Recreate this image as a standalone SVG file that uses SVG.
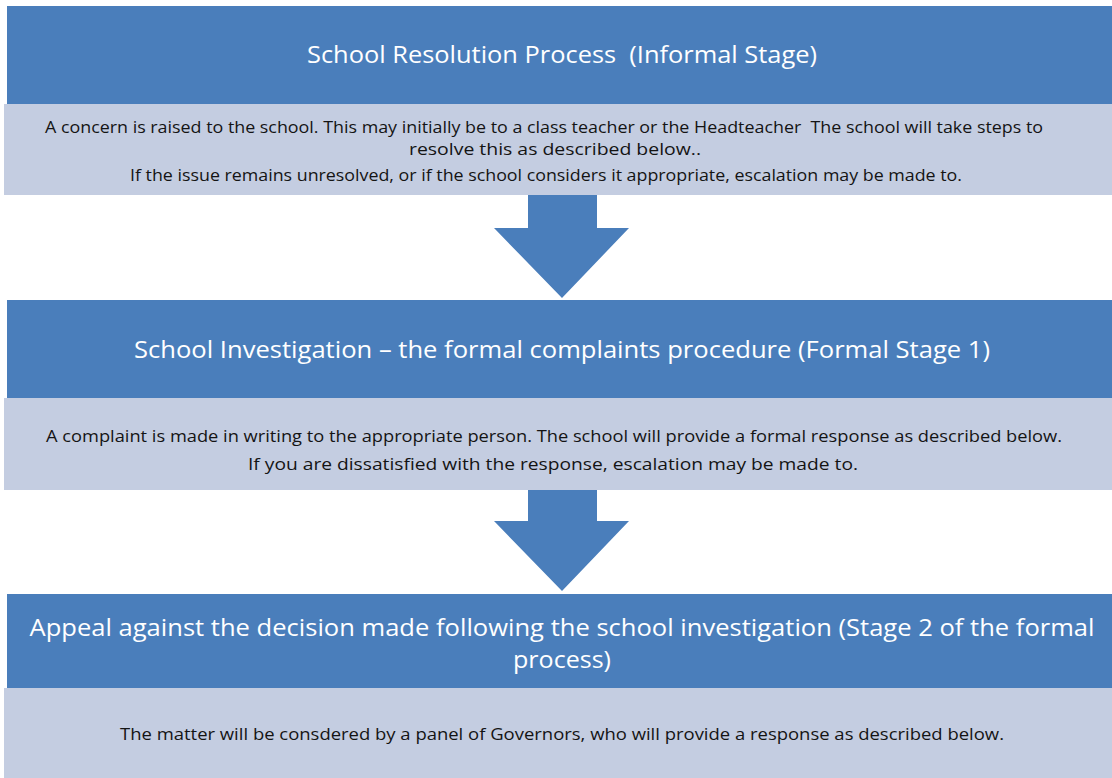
<svg xmlns="http://www.w3.org/2000/svg" width="1112" height="778" viewBox="0 0 1112 778">
  <style>
    .head { fill: #4a7ebb; }
    .body { fill: #c4cde1; }
    .arrow { fill: #4a7ebb; }
    .ht { font-family: "Open Sans", "Liberation Sans", sans-serif; font-size: 23px; fill: #ffffff; text-anchor: middle; white-space: pre; }
    .bt { font-family: "Open Sans", "Liberation Sans", sans-serif; font-size: 16px; fill: #141414; text-anchor: middle; white-space: pre; }
  </style>
  <rect x="0" y="0" width="1112" height="778" fill="#ffffff"/>

  <!-- Stage 0: informal -->
  <g id="stage-informal-head">
    <rect class="head" x="7" y="6" width="1105" height="98"/>
    <text class="ht" xml:space="preserve" x="562" y="63" textLength="510" lengthAdjust="spacingAndGlyphs">School Resolution Process  (Informal Stage)</text>
  </g>
  <g id="stage-informal-body">
    <rect class="body" x="4" y="104" width="1108" height="91"/>
    <text class="bt" xml:space="preserve" x="544" y="133" textLength="998" lengthAdjust="spacingAndGlyphs">A concern is raised to the school. This may initially be to a class teacher or the Headteacher  The school will take steps to</text>
    <text class="bt" x="555" y="155" textLength="292" lengthAdjust="spacingAndGlyphs">resolve this as described below..</text>
    <text class="bt" x="546" y="181" textLength="832" lengthAdjust="spacingAndGlyphs">If the issue remains unresolved, or if the school considers it appropriate, escalation may be made to.</text>
  </g>

  <!-- Stage 1: formal investigation -->
  <g id="stage-formal-head">
    <rect class="head" x="7" y="300" width="1105" height="98"/>
    <text class="ht" x="562" y="358" textLength="856" lengthAdjust="spacingAndGlyphs">School Investigation – the formal complaints procedure (Formal Stage 1)</text>
  </g>
  <g id="stage-formal-body">
    <rect class="body" x="4" y="398" width="1108" height="92"/>
    <text class="bt" x="554" y="442" textLength="1016" lengthAdjust="spacingAndGlyphs">A complaint is made in writing to the appropriate person. The school will provide a formal response as described below.</text>
    <text class="bt" x="553" y="470" textLength="610" lengthAdjust="spacingAndGlyphs">If you are dissatisfied with the response, escalation may be made to.</text>
  </g>

  <!-- Stage 2: appeal -->
  <g id="stage-appeal-head">
    <rect class="head" x="7" y="594" width="1105" height="94"/>
    <text class="ht" x="562" y="636" textLength="1065" lengthAdjust="spacingAndGlyphs">Appeal against the decision made following the school investigation (Stage 2 of the formal</text>
    <text class="ht" x="562" y="668" textLength="98" lengthAdjust="spacingAndGlyphs">process)</text>
  </g>
  <g id="stage-appeal-body">
    <rect class="body" x="4" y="688" width="1108" height="90"/>
    <text class="bt" x="562" y="740" textLength="884" lengthAdjust="spacingAndGlyphs">The matter will be consdered by a panel of Governors, who will provide a response as described below.</text>
  </g>

  <!-- Block arrows between stages -->
  <g id="connectors">
    <polygon class="arrow" points="528,195 597,195 597,228 629,228 562,298 494,228 528,228"/>
    <polygon class="arrow" points="528,490 597,490 597,521 629,521 562,591 494,521 528,521"/>
  </g>
</svg>
